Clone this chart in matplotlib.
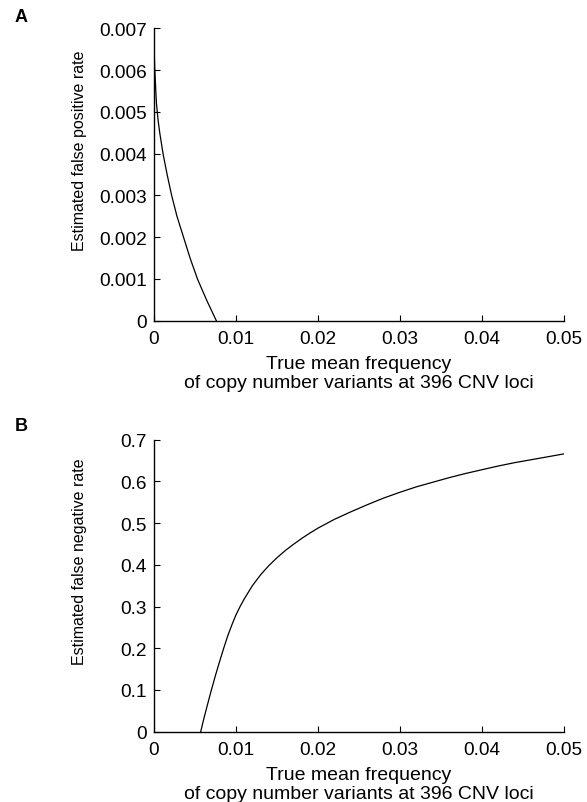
import matplotlib
matplotlib.use("Agg")
import matplotlib.pyplot as plt

plt.rcParams['font.family'] = ['Liberation Sans', 'DejaVu Sans']

# Panel A: estimated false positive rate
fp_x = [0.0, 0.00003, 0.00006, 0.0001, 0.00015, 0.00022, 0.0003, 0.0004,
        0.0005, 0.0007, 0.0011, 0.0016, 0.00215, 0.0028, 0.0036, 0.0044,
        0.0053, 0.0064, 0.0076]
fp_y = [0.0067, 0.0064, 0.0062, 0.0060, 0.0058, 0.0055, 0.0052, 0.0050,
        0.0048, 0.0045, 0.0040, 0.0035, 0.0030, 0.0025, 0.0020, 0.0015,
        0.0010, 0.0005, 0.0]

# Panel B: estimated false negative rate
fn_x = [0.0057, 0.0060, 0.0065, 0.0070, 0.0075, 0.0080, 0.0085, 0.0090,
        0.0095, 0.0100, 0.0105, 0.0110, 0.0120, 0.0130, 0.0140, 0.0150,
        0.0160, 0.0170, 0.0180, 0.0190, 0.0200, 0.0220, 0.0240, 0.0260,
        0.0280, 0.0300, 0.0320, 0.0340, 0.0360, 0.0380, 0.0400, 0.0420,
        0.0440, 0.0460, 0.0480, 0.0500]
fn_y = [0.0, 0.025, 0.063, 0.100, 0.135, 0.168, 0.200, 0.230,
        0.256, 0.280, 0.300, 0.318, 0.350, 0.376, 0.398, 0.417,
        0.434, 0.449, 0.463, 0.476, 0.488, 0.509, 0.527, 0.544,
        0.560, 0.574, 0.587, 0.598, 0.609, 0.619, 0.628, 0.637,
        0.645, 0.652, 0.659, 0.666]

x_ticks = [0, 0.01, 0.02, 0.03, 0.04, 0.05]
x_ticklabels = ['0', '0.01', '0.02', '0.03', '0.04', '0.05']
a_yticks = [0, 0.001, 0.002, 0.003, 0.004, 0.005, 0.006, 0.007]
a_yticklabels = ['0', '0.001', '0.002', '0.003', '0.004', '0.005', '0.006', '0.007']
b_yticks = [0, 0.1, 0.2, 0.3, 0.4, 0.5, 0.6, 0.7]
b_yticklabels = ['0', '0.1', '0.2', '0.3', '0.4', '0.5', '0.6', '0.7']

xlabel = 'True mean frequency\nof copy number variants at 396 CNV loci'
a_ylabel = 'Estimated false positive rate'
b_ylabel = 'Estimated false negative rate'

fig = plt.figure(figsize=(5.87, 8.03), dpi=100)
W, H = 587, 803

def make_axes(top_px, bottom_px):
    left = 154 / W
    width = 410 / W
    bottom = (H - bottom_px) / H
    height = (bottom_px - top_px) / H
    return fig.add_axes([left, bottom, width, height])

axA = make_axes(29.3, 321.7)
axB = make_axes(440.7, 732.6)

def style(ax, yticks, yticklabels, ylim, ylabel, ylab_y):
    ax.set_xlim(0, 0.05)
    ax.set_ylim(*ylim)
    ax.set_xticks(x_ticks)
    ax.set_xticklabels(x_ticklabels)
    ax.set_yticks(yticks)
    ax.set_yticklabels(yticklabels)
    for s in ['top', 'right']:
        ax.spines[s].set_visible(False)
    for s in ['left', 'bottom']:
        ax.spines[s].set_linewidth(1.0)
        ax.spines[s].set_color('black')
    ax.tick_params(direction='in', length=4, width=0.8, labelsize=13.7,
                   colors='black')
    ax.tick_params(axis='y', pad=5)
    ax.tick_params(axis='x', pad=6.5)
    ax.set_xlabel(xlabel, fontsize=14, linespacing=1.15)
    ax.xaxis.set_label_coords(0.5, -0.18, transform=ax.transAxes)
    ax.xaxis.label.set_verticalalignment('center')
    ax.set_ylabel(ylabel, fontsize=11.5)
    ax.yaxis.set_label_coords(-0.163, ylab_y)

axA.plot(fp_x, fp_y, color='black', linewidth=0.9)
style(axA, a_yticks, a_yticklabels, (0, 0.007), a_ylabel, 0.585)

axB.plot(fn_x, fn_y, color='black', linewidth=0.9)
style(axB, b_yticks, b_yticklabels, (0, 0.7), b_ylabel, 0.585)

fig.text(21.5 / W, 1 - 18 / H, 'A', fontsize=13, fontweight='bold',
         ha='center', va='center')
fig.text(21.5 / W, 1 - 427 / H, 'B', fontsize=13, fontweight='bold',
         ha='center', va='center')

fig.savefig('out.png', dpi=100)
